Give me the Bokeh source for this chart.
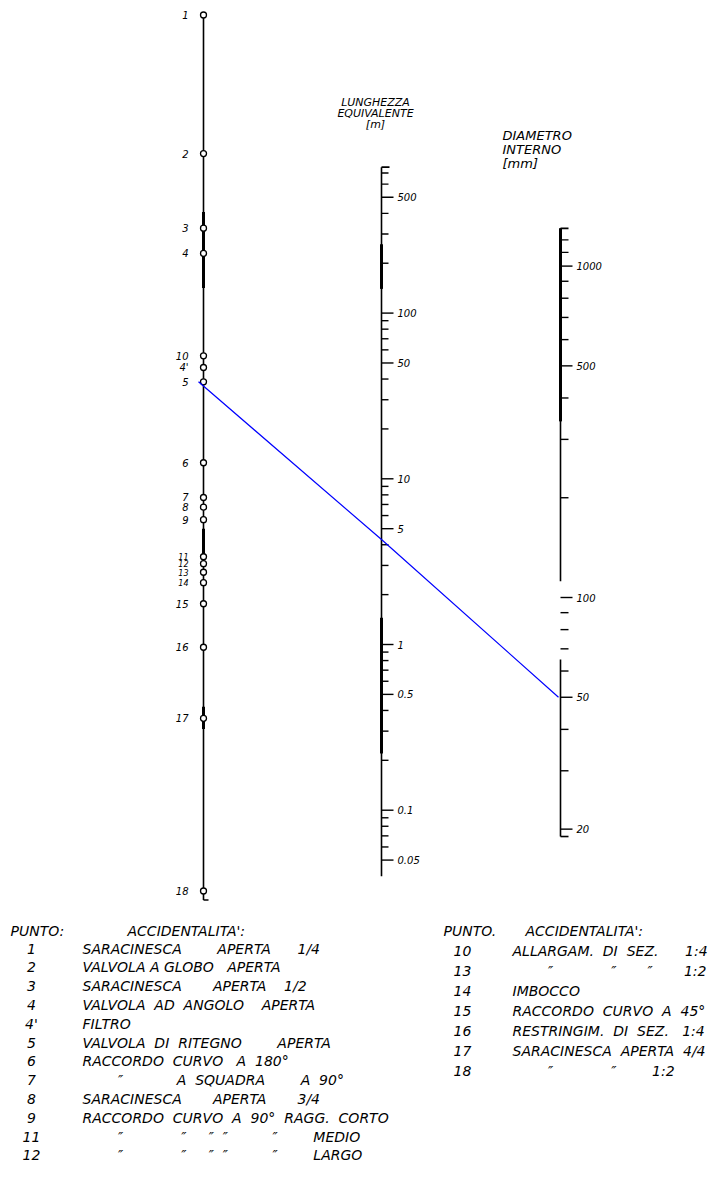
import math
from bokeh.plotting import figure
from bokeh.models import Range1d, LogScale, ColumnDataSource
from bokeh.core.properties import value
from bokeh.embed import file_html
from bokeh.resources import INLINE

# ---------------- DATA ----------------
# left scale: fitting points and their equivalent length in diameters (L/D)
punti = ["1", "2", "3", "4", "10", "4'", "5", "6", "7", "8", "9",
         "11", "12", "13", "14", "15", "16", "17", "18"]
l_su_d = [1100, 420, 250, 210, 103, 95, 86, 49, 38.5, 36, 33,
          25.5, 24.3, 22.9, 21.3, 18.4, 13.6, 8.3, 2.5]

# middle scale: equivalent length [m]
lung_ticks = [700, 600, 500, 400, 300, 200, 100, 90, 80, 70, 60, 50, 40, 30, 20,
              10, 9, 8, 7, 6, 5, 4, 3, 2, 1, 0.9, 0.8, 0.7, 0.6, 0.5, 0.4, 0.3,
              0.2, 0.1, 0.09, 0.08, 0.07, 0.06, 0.05]
lung_label_vals = [500, 100, 50, 10, 5, 1, 0.5, 0.1, 0.05]
lung_labels = ["500", "100", "50", "10", "5", "1", "0.5", "0.1", "0.05"]
lung_span = [760, 0.04]
lung_thick = [[260, 140], [1.45, 0.22]]

# right scale: internal diameter [mm]
diam_ticks = [1200, 1100, 1000, 900, 800, 700, 600, 500, 400, 300, 200,
              100, 90, 80, 70, 60, 50, 40, 30, 20]
diam_label_vals = [1000, 500, 100, 50, 20]
diam_labels = ["1000", "500", "100", "50", "20"]
diam_spans = [[1300, 112], [65, 19]]
diam_thick = [[1300, 340]]

left_span = [1120, 2.35]
left_thick = [[280, 165], [31, 25.5], [9, 7.7]]

# example read-off: point 5 with D = 50 mm
punto_scelto = "5"
diametro_scelto = 50.0

# legends
titolo_lung = ["LUNGHEZZA", "EQUIVALENTE", "[m]"]
titolo_diam = ["DIAMETRO", "INTERNO", "[mm]"]
leg1_head = ["PUNTO:", "ACCIDENTALITA':"]
leg1_num = ["1", "2", "3", "4", "4'", "5", "6", "7", "8", "9", "11", "12"]
leg1_txt = ["SARACINESCA        APERTA      1/4",
            "VALVOLA A GLOBO   APERTA",
            "SARACINESCA       APERTA    1/2",
            "VALVOLA  AD  ANGOLO    APERTA",
            "FILTRO",
            "VALVOLA  DI  RITEGNO        APERTA",
            "RACCORDO  CURVO   A  180°",
            "        ″            A  SQUADRA        A  90°",
            "SARACINESCA       APERTA       3/4",
            "RACCORDO  CURVO  A  90°  RAGG.  CORTO",
            "        ″             ″     ″  ″          ″        MEDIO",
            "        ″             ″     ″  ″          ″        LARGO"]
leg2_head = ["PUNTO.", "ACCIDENTALITA':"]
leg2_num = ["10", "13", "14", "15", "16", "17", "18"]
leg2_txt = ["ALLARGAM.  DI  SEZ.      1:4",
            "        ″             ″       ″       1:2",
            "IMBOCCO",
            "RACCORDO  CURVO  A  45°",
            "RESTRINGIM.  DI  SEZ.   1:4",
            "SARACINESCA  APERTA  4/4",
            "        ″             ″        1:2"]

# ---------------- LAYOUT ----------------
W, H = 712, 1169
TOP, BOT = 0, H
XL, XM, XR = 203, 381, 560


def log_range(v_anchor, y_anchor, px_dec):
    top = math.log10(v_anchor) + (y_anchor - TOP) / px_dec
    bot = top - H / px_dec
    return Range1d(start=10 ** bot, end=10 ** top)


r_left = log_range(1000, 28.2, 331.4)
r_mid = log_range(1.0, 644, 165.7)
r_right = log_range(100, 597, 331.4)


def equiv(v, ra, rb):
    a0, a1 = math.log10(ra.start), math.log10(ra.end)
    b0, b1 = math.log10(rb.start), math.log10(rb.end)
    f = (math.log10(v) - a0) / (a1 - a0)
    return 10 ** (b0 + f * (b1 - b0))


def keep_spaces(items):
    return [s.replace(" ", "\u00a0") for s in items]


p = figure(width=W, height=H, x_range=Range1d(0, W), y_range=Range1d(BOT, TOP),
           extra_y_ranges={"left": r_left, "mid": r_mid, "right": r_right},
           extra_y_scales={"left": LogScale(), "mid": LogScale(), "right": LogScale()},
           output_backend="svg", toolbar_location=None, min_border=0,
           background_fill_color="white", border_fill_color="white")
p.axis.visible = False
p.xgrid.visible = False
p.ygrid.visible = False
p.outline_line_color = None

FONT = value("DejaVu Sans")
INK = "black"

# ---- left scale ----
p.segment(x0=[XL], x1=[XL], y0=[left_span[0]], y1=[left_span[1]], y_range_name="left",
          line_color=INK, line_width=1.6)
p.segment(x0=[XL] * len(left_thick), x1=[XL] * len(left_thick),
          y0=[t[0] for t in left_thick], y1=[t[1] for t in left_thick],
          y_range_name="left", line_color=INK, line_width=3)
p.segment(x0=[XL], x1=[XL + 5], y0=[left_span[1]], y1=[left_span[1]], y_range_name="left",
          line_color=INK, line_width=1.6)
crowd = {"11", "12", "13", "14"}
src_pts = ColumnDataSource(dict(
    x=[XL] * len(punti), y=l_su_d, lab=punti,
    fs=["8px" if k in crowd else "10px" for k in punti]))
p.scatter(x="x", y="y", source=src_pts, y_range_name="left", marker="circle", size=6,
          fill_color="white", line_color=INK, line_width=1.3)
p.text(x=XL - 15, y="y", text="lab", source=src_pts, y_range_name="left",
       text_font=FONT, text_font_size="fs", text_font_style="italic",
       text_align="right", text_baseline="middle", text_color=INK)

# ---- middle scale ----
p.segment(x0=[XM], x1=[XM], y0=[lung_span[0]], y1=[lung_span[1]], y_range_name="mid",
          line_color=INK, line_width=1.6)
p.segment(x0=[XM] * len(lung_thick), x1=[XM] * len(lung_thick),
          y0=[t[0] for t in lung_thick], y1=[t[1] for t in lung_thick],
          y_range_name="mid", line_color=INK, line_width=3)
tl = [12 if v in lung_label_vals else 7 for v in lung_ticks]
p.segment(x0=[XM] * len(lung_ticks), x1=[XM + t for t in tl], y0=lung_ticks, y1=lung_ticks,
          y_range_name="mid", line_color=INK, line_width=1.4)
p.segment(x0=[XM], x1=[XM + 8], y0=[lung_span[0]], y1=[lung_span[0]], y_range_name="mid",
          line_color=INK, line_width=1.6)
p.text(x=[XM + 16] * len(lung_labels), y=lung_label_vals, text=lung_labels, y_range_name="mid",
       text_font=FONT, text_font_size="10px", text_font_style="italic",
       text_align="left", text_baseline="middle", text_color=INK)

# ---- right scale ----
for a, b in diam_spans:
    p.segment(x0=[XR], x1=[XR], y0=[a], y1=[b], y_range_name="right",
              line_color=INK, line_width=1.6)
p.segment(x0=[XR] * len(diam_thick), x1=[XR] * len(diam_thick),
          y0=[t[0] for t in diam_thick], y1=[t[1] for t in diam_thick],
          y_range_name="right", line_color=INK, line_width=3)
dl = [12 if v in diam_label_vals else 8 for v in diam_ticks]
p.segment(x0=[XR] * len(diam_ticks), x1=[XR + t for t in dl], y0=diam_ticks, y1=diam_ticks,
          y_range_name="right", line_color=INK, line_width=1.4)
p.segment(x0=[XR, XR], x1=[XR + 8, XR + 8], y0=[diam_spans[0][0], diam_spans[1][1]],
          y1=[diam_spans[0][0], diam_spans[1][1]], y_range_name="right",
          line_color=INK, line_width=1.6)
p.text(x=[XR + 16] * len(diam_labels), y=diam_label_vals, text=diam_labels, y_range_name="right",
       text_font=FONT, text_font_size="10px", text_font_style="italic",
       text_align="left", text_baseline="middle", text_color=INK)

# ---- read-off line ----
ld_sel = l_su_d[punti.index(punto_scelto)]
l_sel = ld_sel * diametro_scelto / 1000.0
p.line(x=[XL - 5, XM, XR - 2],
       y=[equiv(ld_sel, r_left, r_mid), l_sel, equiv(diametro_scelto, r_right, r_mid)],
       y_range_name="mid", line_color="#0000ff", line_width=1.2)

# ---- titles ----
p.text(x=[375] * 3, y=[102, 113, 124], text=titolo_lung, text_font=FONT,
       text_font_size="11px", text_font_style="italic", text_align="center",
       text_baseline="middle", text_color=INK)
p.text(x=[502] * 3, y=[135, 149, 163], text=titolo_diam, text_font=FONT,
       text_font_size="13px", text_font_style="italic", text_align="left",
       text_baseline="middle", text_color=INK)

# ---- legends ----
LS = dict(text_font=FONT, text_font_size="14px", text_font_style="italic",
          text_baseline="middle", text_color=INK)
y1 = [948 + 18.8 * i for i in range(len(leg1_num))]
p.text(x=[10, 127], y=[930, 930], text=leg1_head, text_align="left", **LS)
p.text(x=[31] * len(leg1_num), y=y1, text=leg1_num, text_align="center", **LS)
p.text(x=[82] * len(leg1_txt), y=y1, text=keep_spaces(leg1_txt), text_align="left", **LS)
y2 = [950 + 20 * i for i in range(len(leg2_num))]
p.text(x=[443, 525], y=[930, 930], text=leg2_head, text_align="left", **LS)
p.text(x=[462] * len(leg2_num), y=y2, text=leg2_num, text_align="center", **LS)
p.text(x=[512] * len(leg2_txt), y=y2, text=keep_spaces(leg2_txt), text_align="left", **LS)

open("out.html", "w").write(file_html(p, INLINE))
